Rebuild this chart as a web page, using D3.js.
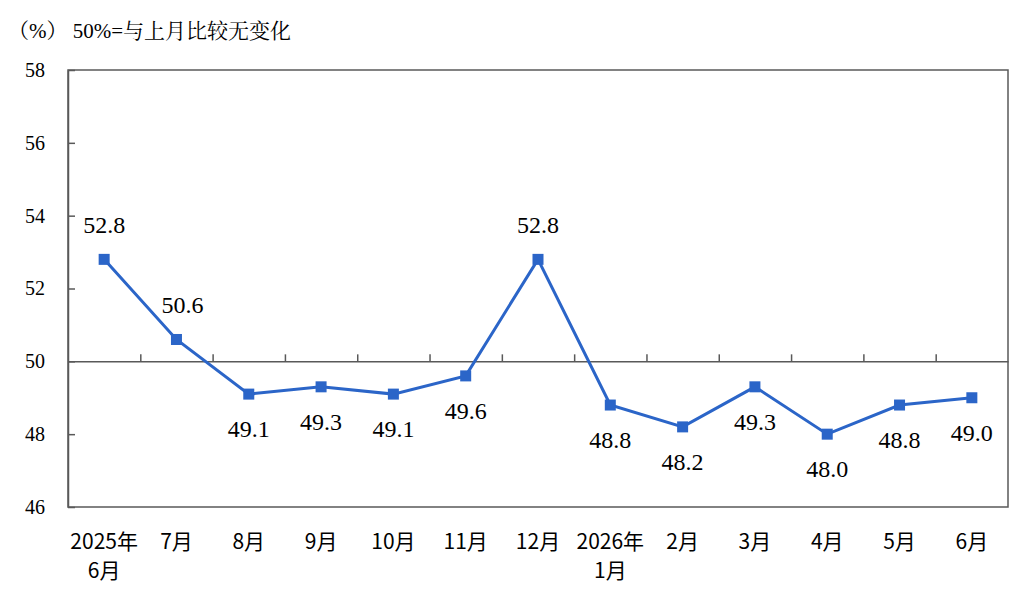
<!DOCTYPE html>
<html>
<head>
<meta charset="utf-8">
<script src="https://cdn.jsdelivr.net/npm/d3@7"></script>
<style>
  body { margin: 0; background: #fff; font-family: 'Liberation Serif', serif; }
  svg { display: block; }
</style>
</head>
<body>
<div id="chart"></div>
<script>
// monthly index values, Jun 2025 .. Jun 2026
var months = ['2025年|6月', '7月', '8月', '9月', '10月', '11月', '12月',
              '2026年|1月', '2月', '3月', '4月', '5月', '6月'];
var values = [52.8, 50.6, 49.1, 49.3, 49.1, 49.6, 52.8, 48.8, 48.2, 49.3, 48.0, 48.8, 49.0];
var labelAbove = [true, true, false, false, false, false, true, false, false, false, false, false, false];
var yTicks = [46, 48, 50, 52, 54, 56, 58];

var width = 1034, height = 608,
    plotL = 68, plotR = 1008, plotT = 70, plotB = 507,
    blue = '#2b65c8', grey = '#595959',
    serifFont = "Liberation Serif, Noto Serif CJK SC, serif",
    sansFont = "Noto Sans CJK SC, sans-serif";

function draw() {
    d3.select('#chart').selectAll('*').remove();

    var svg = d3.select('#chart').append('svg')
        .attr('width', width)
        .attr('height', height)
        .attr('font-family', serifFont);

    var x = d3.scaleBand()
        .domain(d3.range(months.length))
        .range([plotL, plotR]);

    var xEdge = d3.scaleLinear()
        .domain([0, months.length])
        .range([plotL, plotR]);

    var y = d3.scaleLinear()
        .domain([46, 58])
        .range([plotB, plotT]);

    // title
    svg.append('text')
        .attr('x', 8)
        .attr('y', 31)
        .attr('dominant-baseline', 'central')
        .attr('font-family', serifFont)
        .attr('font-size', 21)
        .text('（%） 50%=与上月比较无变化');

    // frame
    svg.append('rect')
        .attr('x', plotL)
        .attr('y', plotT)
        .attr('width', plotR - plotL)
        .attr('height', plotB - plotT)
        .attr('fill', 'none')
        .attr('stroke', grey)
        .attr('stroke-width', 1.5);

    // y axis: inward ticks, labels on the left
    var yAxis = svg.append('g')
        .attr('transform', 'translate(' + plotL + ',0)')
        .call(d3.axisLeft(y)
            .tickValues(yTicks)
            .tickSizeInner(-7)
            .tickSizeOuter(0)
            .tickPadding(23))
        .attr('font-family', serifFont)
        .attr('font-size', 20);
    yAxis.select('.domain').attr('stroke', grey).attr('stroke-width', 1.5);
    yAxis.selectAll('line').attr('stroke', grey).attr('stroke-width', 1.5);
    yAxis.selectAll('text').attr('fill', '#000').attr('font-family', serifFont);

    // 50 line with category separators
    var midAxis = svg.append('g')
        .attr('transform', 'translate(0,' + y(50) + ')')
        .call(d3.axisTop(xEdge)
            .tickValues(d3.range(1, months.length))
            .tickFormat('')
            .tickSizeInner(7)
            .tickSizeOuter(0));
    midAxis.select('.domain').attr('stroke', grey).attr('stroke-width', 1.5);
    midAxis.selectAll('line').attr('stroke', grey).attr('stroke-width', 1.5);

    // category labels
    var xAxis = svg.append('g')
        .attr('transform', 'translate(0,' + plotB + ')')
        .call(d3.axisBottom(x)
            .tickSize(0)
            .tickFormat(''))
        .attr('font-family', sansFont)
        .attr('font-size', 21);
    xAxis.select('.domain').remove();
    xAxis.selectAll('.tick text').each(function(d) {
        var t = d3.select(this)
            .attr('y', 0)
            .attr('dy', null)
            .attr('fill', '#000')
            .attr('font-family', sansFont);
        months[d].split('|').forEach(function(part, i) {
            t.append('tspan')
                .attr('x', 0)
                .attr('y', 33 + i * 29)
                .attr('dominant-baseline', 'central')
                .text(part);
        });
    });

    // line + markers
    var cx = function(d, i) { return x(i) + x.bandwidth() / 2; };

    var line = d3.line()
        .x(cx)
        .y(function(d) { return y(d); });

    svg.append('path')
        .datum(values)
        .attr('d', line)
        .attr('fill', 'none')
        .attr('stroke', blue)
        .attr('stroke-width', 3);

    svg.selectAll('rect.marker')
        .data(values)
      .enter().append('rect')
        .attr('class', 'marker')
        .attr('x', function(d, i) { return cx(d, i) - 5.5; })
        .attr('y', function(d) { return y(d) - 5.5; })
        .attr('width', 11)
        .attr('height', 11)
        .attr('fill', blue);

    svg.selectAll('text.value')
        .data(values)
      .enter().append('text')
        .attr('class', 'value')
        .attr('x', function(d, i) { return cx(d, i) + (i == 1 ? 6 : 0); })
        .attr('y', function(d, i) { return y(d) + (labelAbove[i] ? -34 : 35); })
        .attr('text-anchor', 'middle')
        .attr('dominant-baseline', 'central')
        .attr('font-family', serifFont)
        .attr('font-size', 24)
        .text(function(d) { return d.toFixed(1); });
}

draw();
if (document.fonts && document.fonts.load) {
    Promise.all([
        document.fonts.load('24px "Liberation Serif"', '52.8'),
        document.fonts.load('21px "Noto Serif CJK SC"', '与上月'),
        document.fonts.load('21px "Noto Sans CJK SC"', '年月')
    ]).then(draw, draw);
}
</script>
</body>
</html>
